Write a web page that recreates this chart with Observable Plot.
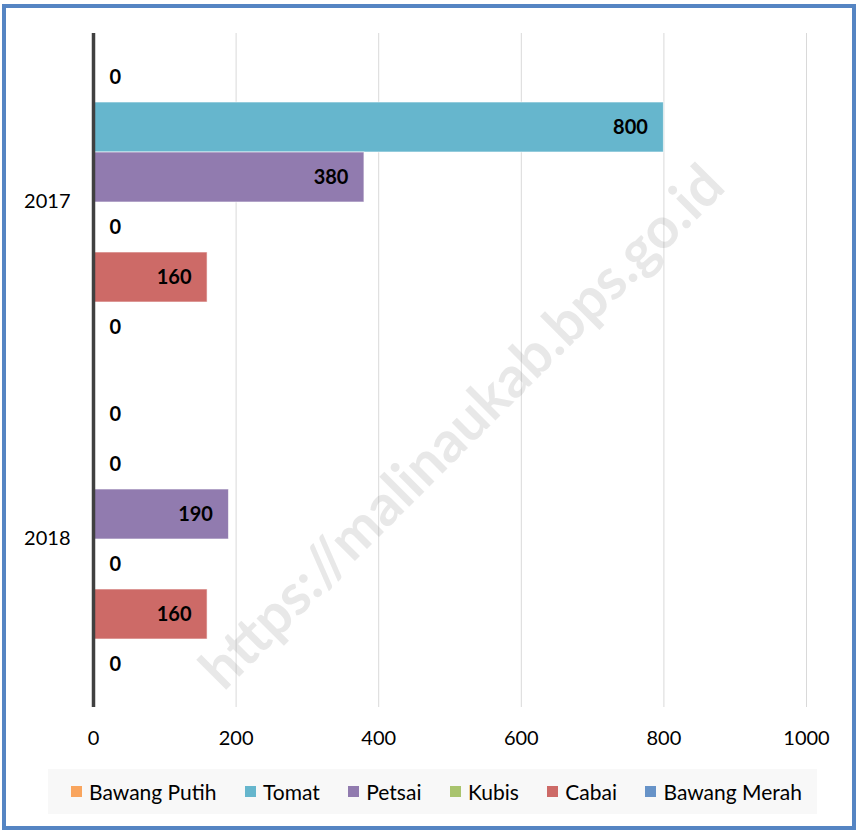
<!DOCTYPE html>
<html>
<head>
<meta charset="utf-8">
<script src="https://cdn.jsdelivr.net/npm/d3@7"></script>
<script src="https://cdn.jsdelivr.net/npm/@observablehq/plot@0.6"></script>
<style>
  html, body { margin: 0; padding: 0; background: #fff; }
  #wrap { position: relative; width: 857px; height: 830px; overflow: hidden; font-family: Lato, "Open Sans", sans-serif; }
  #frame { position: absolute; left: 2px; top: 4px; width: 846px; height: 818px; border: 4px solid #5585c3; pointer-events: none; z-index: 5; }
  #chart { position: absolute; left: 0; top: 0; }
  #legend { position: absolute; left: 48px; top: 769px; width: 769px; height: 45px; background: #f8f8f8;
            display: flex; align-items: center; justify-content: space-between; box-sizing: border-box;
            padding: 0 15px 0 23px; font-size: 21px; color: #000; }
  #legend .item { display: flex; align-items: center; }
  #legend .sw { width: 11px; height: 11px; margin-right: 7px; }
  #wm { position: absolute; left: 460px; top: 425px; transform: translate(-50%, -50%) rotate(-45deg);
        white-space: nowrap; font-weight: bold; font-size: 57px; color: rgba(140,140,140,0.2); z-index: 4; pointer-events: none; }
</style>
</head>
<body>
<div id="wrap">
  <div id="chart"></div>
  <div id="wm">https://malinaukab.bps.go.id</div>
  <div id="legend"></div>
  <div id="frame"></div>
</div>
<script>
const years = ["2017", "2018"];
const series = ["Bawang Putih", "Tomat", "Petsai", "Kubis", "Cabai", "Bawang Merah"];
const colors = ["#f9a55e", "#66b6cd", "#917baf", "#a9c46e", "#cd6a67", "#6793c8"];
const values2017 = [0, 800, 380, 0, 160, 0];
const values2018 = [0, 0, 190, 0, 160, 0];
const xTicks = [0, 200, 400, 600, 800, 1000];

const valuesByYear = [values2017, values2018];
const data = years.flatMap((yr, i) => series.map((s, j) => ({year: yr, series: s, value: valuesByYear[i][j]})));

const chart = Plot.plot({
  width: 857,
  height: 760,
  marginLeft: 93,
  marginRight: 51,
  marginTop: 33,
  marginBottom: 53,
  style: {fontFamily: "Lato, 'Open Sans', sans-serif", fontSize: "20px", color: "#000", background: "transparent"},
  x: {domain: [0, 1000], ticks: xTicks, tickSize: 0, tickPadding: 23, label: null, tickFormat: d => String(d)},
  y: {domain: series, axis: null, paddingInner: 0, paddingOuter: 0.33},
  fy: {domain: years, label: null, tickSize: 0, tickPadding: 23, padding: 0, axis: "left"},
  color: {domain: series, range: colors},
  marks: [
    Plot.ruleX(xTicks.slice(1), {stroke: "#d9d9d9", strokeWidth: 1}),
    Plot.barX(data, {x: "value", y: "series", fy: "year", fill: "series", stroke: "#ffffff", strokeOpacity: 0.6, strokeWidth: 1}),
    Plot.ruleX([0], {stroke: "#404040", strokeWidth: 3.5}),
    Plot.text(data.filter(d => d.value > 0), {x: "value", y: "series", fy: "year", text: d => String(d.value),
      textAnchor: "end", dx: -16, fontWeight: "bold", fontSize: 20, fill: "#000"}),
    Plot.text(data.filter(d => d.value === 0), {x: "value", y: "series", fy: "year", text: d => String(d.value),
      textAnchor: "start", dx: 16, fontWeight: "bold", fontSize: 20, fill: "#000"})
  ]
});
document.getElementById("chart").appendChild(chart);

const legend = document.getElementById("legend");
series.forEach((s, i) => {
  const item = document.createElement("div");
  item.className = "item";
  const sw = document.createElement("span");
  sw.className = "sw";
  sw.style.background = colors[i];
  const t = document.createElement("span");
  t.textContent = s;
  item.appendChild(sw);
  item.appendChild(t);
  legend.appendChild(item);
});
</script>
</body>
</html>
